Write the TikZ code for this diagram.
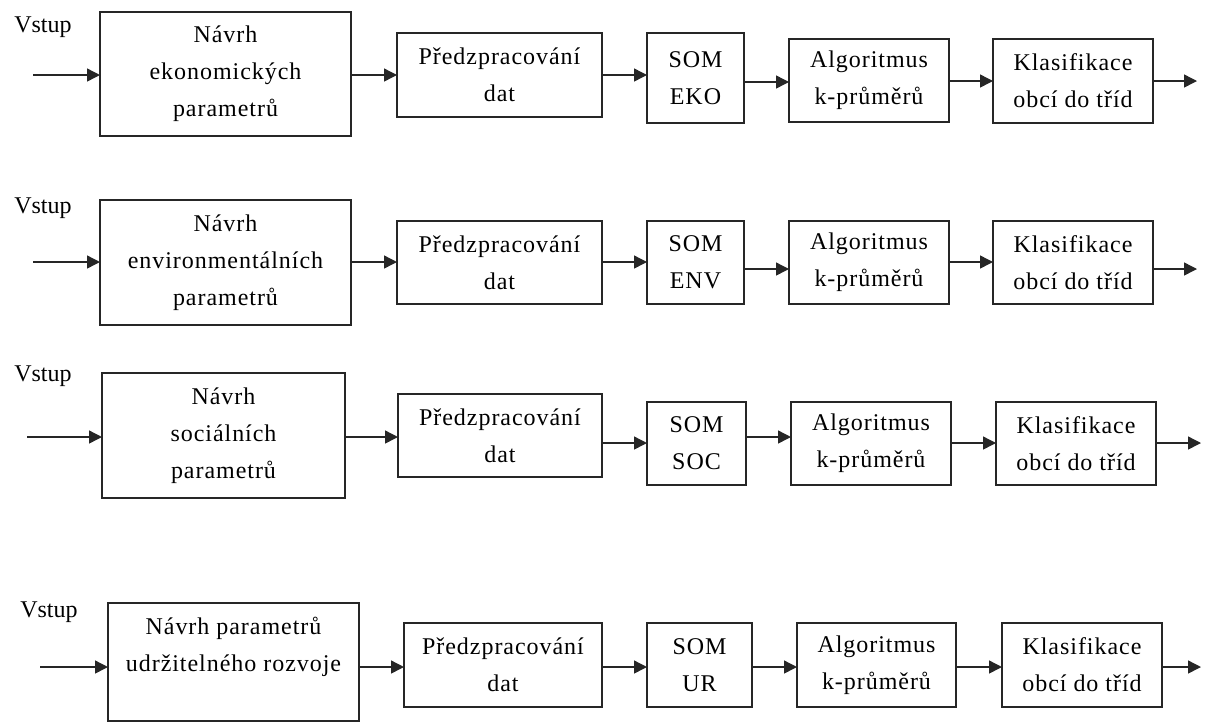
\documentclass[tikz,border=0pt]{standalone}
\usepackage{fontspec}
\setmainfont{Liberation Serif}
\newfontfamily\boxfont[LetterSpace=4]{Liberation Serif}
\usetikzlibrary{arrows.meta}
\definecolor{edge}{HTML}{262626}
\tikzset{
  box/.style={draw=edge, line width=1.4pt, inner sep=0pt, outer sep=0pt, align=center,
    font=\boxfont\fontsize{24}{37}\selectfont},
  arr/.style={draw=edge, line width=1.4pt, -{Triangle[length=13pt,width=13pt]}},
  lbl/.style={font=\fontsize{24}{28}\selectfont, inner sep=0pt}
}
\begin{document}
\begin{tikzpicture}[x=1pt,y=-1pt]
\useasboundingbox (0,0) rectangle (1206,724);
% ---------- Row 1 ----------
\node[lbl] (r1v) at (43,27) {Vstup};
\coordinate (r1in) at (33,75);
\coordinate (r1out) at (1197,81);
\node[box, minimum width=251pt, minimum height=124pt] (r1b1) at (225.5,74) {Návrh\\ekonomických\\parametrů};
\node[box, minimum width=205pt, minimum height=84pt] (r1b2) at (499.5,75) {Předzpracování\\dat};
\node[box, minimum width=97pt, minimum height=90pt] (r1b3) at (695.5,78) {SOM\\EKO};
\node[box, minimum width=160pt, minimum height=83pt] (r1b4) at (869,80.5) {Algoritmus\\k-průměrů};
\node[box, minimum width=160pt, minimum height=84pt] (r1b5) at (1073,81) {Klasifikace\\obcí do tříd};
\draw[arr] (r1in) -- (r1b1.west |- 0,75);
\draw[arr] (r1b1.east |- 0,75) -- (r1b2.west |- 0,75);
\draw[arr] (r1b2.east |- 0,75) -- (r1b3.west |- 0,75);
\draw[arr] (r1b3.east |- 0,82) -- (r1b4.west |- 0,82);
\draw[arr] (r1b4.east |- 0,81) -- (r1b5.west |- 0,81);
\draw[arr] (r1b5.east |- 0,81) -- (r1out);
% ---------- Row 2 ----------
\node[lbl] (r2v) at (43,208) {Vstup};
\coordinate (r2in) at (33,262);
\coordinate (r2out) at (1197,269);
\node[box, minimum width=251pt, minimum height=125pt] (r2b1) at (225.5,262.5) {Návrh\\environmentálních\\parametrů};
\node[box, minimum width=205pt, minimum height=83pt] (r2b2) at (499.5,262.5) {Předzpracování\\dat};
\node[box, minimum width=97pt, minimum height=83pt] (r2b3) at (695.5,262.5) {SOM\\ENV};
\node[box, minimum width=160pt, minimum height=83pt] (r2b4) at (869,262.5) {Algoritmus\\k-průměrů};
\node[box, minimum width=160pt, minimum height=83pt] (r2b5) at (1073,262.5) {Klasifikace\\obcí do tříd};
\draw[arr] (r2in) -- (r2b1.west |- 0,262);
\draw[arr] (r2b1.east |- 0,262) -- (r2b2.west |- 0,262);
\draw[arr] (r2b2.east |- 0,262) -- (r2b3.west |- 0,262);
\draw[arr] (r2b3.east |- 0,269) -- (r2b4.west |- 0,269);
\draw[arr] (r2b4.east |- 0,262) -- (r2b5.west |- 0,262);
\draw[arr] (r2b5.east |- 0,269) -- (r2out);
% ---------- Row 3 ----------
\node[lbl] (r3v) at (43,376) {Vstup};
\coordinate (r3in) at (27,437);
\coordinate (r3out) at (1201,443);
\node[box, minimum width=243pt, minimum height=125pt] (r3b1) at (223.5,435.5) {Návrh\\sociálních\\parametrů};
\node[box, minimum width=204pt, minimum height=83pt] (r3b2) at (500,435.5) {Předzpracování\\dat};
\node[box, minimum width=99pt, minimum height=83pt] (r3b3) at (696.5,443.5) {SOM\\SOC};
\node[box, minimum width=160pt, minimum height=83pt] (r3b4) at (871,443.5) {Algoritmus\\k-průměrů};
\node[box, minimum width=160pt, minimum height=83pt] (r3b5) at (1076,443.5) {Klasifikace\\obcí do tříd};
\draw[arr] (r3in) -- (r3b1.west |- 0,437);
\draw[arr] (r3b1.east |- 0,437) -- (r3b2.west |- 0,437);
\draw[arr] (r3b2.east |- 0,443) -- (r3b3.west |- 0,443);
\draw[arr] (r3b3.east |- 0,437) -- (r3b4.west |- 0,437);
\draw[arr] (r3b4.east |- 0,443) -- (r3b5.west |- 0,443);
\draw[arr] (r3b5.east |- 0,443) -- (r3out);
% ---------- Row 4 ----------
\node[lbl] (r4v) at (49,612) {Vstup};
\coordinate (r4in) at (40,667);
\coordinate (r4out) at (1201,667);
\node[box, minimum width=251pt, minimum height=118pt] (r4b1) at (233.5,662) {Návrh parametrů\\udržitelného rozvoje\\[-12pt]\strut};
\node[box, minimum width=198pt, minimum height=84pt] (r4b2) at (503,665) {Předzpracování\\dat};
\node[box, minimum width=105pt, minimum height=84pt] (r4b3) at (699.5,665) {SOM\\UR};
\node[box, minimum width=159pt, minimum height=84pt] (r4b4) at (876.5,665) {Algoritmus\\k-průměrů};
\node[box, minimum width=160pt, minimum height=84pt] (r4b5) at (1082,665) {Klasifikace\\obcí do tříd};
\draw[arr] (r4in) -- (r4b1.west |- 0,667);
\draw[arr] (r4b1.east |- 0,667) -- (r4b2.west |- 0,667);
\draw[arr] (r4b2.east |- 0,667) -- (r4b3.west |- 0,667);
\draw[arr] (r4b3.east |- 0,667) -- (r4b4.west |- 0,667);
\draw[arr] (r4b4.east |- 0,667) -- (r4b5.west |- 0,667);
\draw[arr] (r4b5.east |- 0,667) -- (r4out);
\end{tikzpicture}
\end{document}
